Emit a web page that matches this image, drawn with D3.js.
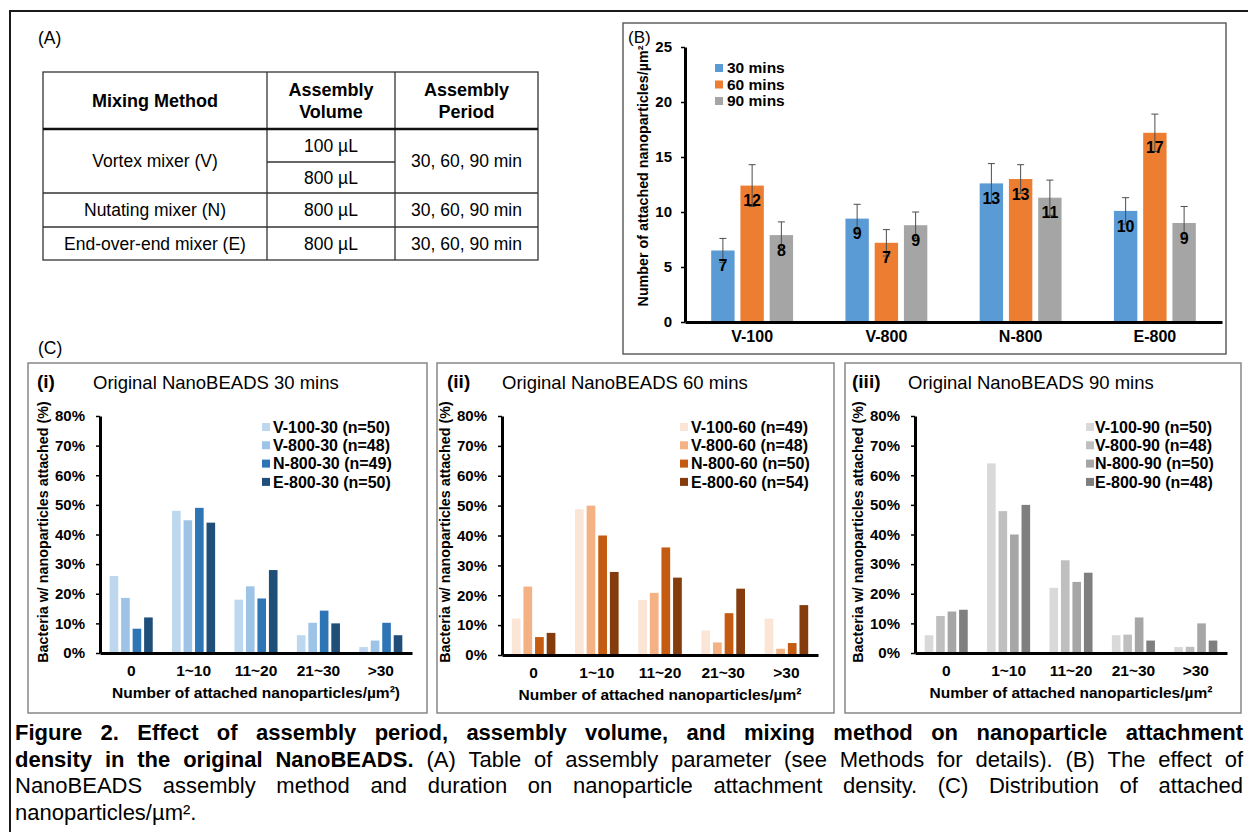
<!DOCTYPE html>
<html><head><meta charset="utf-8">
<script src="https://cdn.jsdelivr.net/npm/d3@7"></script>
<style>body{margin:0;background:#fff;} svg{display:block;} text{font-family:"Liberation Sans",Arial,Helvetica,sans-serif;fill:#000;}</style>
</head><body><svg id="fig" width="1248" height="832"></svg>
<script>
// ---------------- DATA ----------------
// Panel A table
const tableHeader = [["Mixing Method"], ["Assembly", "Volume"], ["Assembly", "Period"]];
const mixers = ["Vortex mixer (V)", "Nutating mixer (N)", "End-over-end mixer (E)"];
const volumes = ["100 µL", "800 µL", "800 µL", "800 µL"];
const periods = ["30, 60, 90 min", "30, 60, 90 min", "30, 60, 90 min"];

// Panel B
const bCategories = ["V-100", "V-800", "N-800", "E-800"];
const bSeries = ["30 mins", "60 mins", "90 mins"];
const b30 = [6.5, 9.4, 12.6, 10.1];
const b60 = [12.4, 7.2, 13.0, 17.2];
const b90 = [7.9, 8.8, 11.3, 9.0];
const b30err = [1.1, 1.3, 1.8, 1.2];
const b60err = [1.9, 1.2, 1.3, 1.7];
const b90err = [1.2, 1.2, 1.6, 1.5];
const b30lab = ["7", "9", "13", "10"];
const b60lab = ["12", "7", "13", "17"];
const b90lab = ["8", "9", "11", "9"];
const bTicks = [0, 5, 10, 15, 20, 25];
const bColors = ["#5B9BD5", "#ED7D31", "#A5A5A5"];

// Panel C
const cCategories = ["0", "1~10", "11~20", "21~30", ">30"];
const cTicks = [0, 10, 20, 30, 40, 50, 60, 70, 80];
const c30names = ["V-100-30 (n=50)", "V-800-30 (n=48)", "N-800-30 (n=49)", "E-800-30 (n=50)"];
const c30V100 = [26, 48, 18, 6, 2];
const c30V800 = [18.6, 44.8, 22.5, 10.2, 4.2];
const c30N800 = [8.2, 49, 18.4, 14.3, 10.2];
const c30E800 = [12, 44, 28, 10, 6];
const c60names = ["V-100-60 (n=49)", "V-800-60 (n=48)", "N-800-60 (n=50)", "E-800-60 (n=54)"];
const c60V100 = [12.2, 48.8, 18.4, 8.2, 12.2];
const c60V800 = [22.9, 50, 20.8, 4.2, 2.1];
const c60N800 = [6, 40, 36, 14, 4];
const c60E800 = [7.4, 27.8, 25.9, 22.2, 16.7];
const c90names = ["V-100-90 (n=50)", "V-800-90 (n=48)", "N-800-90 (n=50)", "E-800-90 (n=48)"];
const c90V100 = [6, 64, 22, 6, 2];
const c90V800 = [12.5, 47.9, 31.3, 6.2, 2.1];
const c90N800 = [14, 40, 24, 12, 10];
const c90E800 = [14.6, 50, 27.1, 4.2, 4.2];
const cBlues = ["#BDD7EE", "#9DC3E6", "#2E75B6", "#1F4E79"];
const cOranges = ["#FBE5D6", "#F4B183", "#C55A11", "#843C0C"];
const cGrays = ["#D9D9D9", "#BFBFBF", "#A6A6A6", "#7F7F7F"];

// Caption
const captionLines = [
  [{t: "Figure 2. Effect of assembly period, assembly volume, and mixing method on nanoparticle attachment", b: true}],
  [{t: "density in the original NanoBEADS.", b: true}, {t: "(A) Table of assembly parameter (see Methods for details). (B) The effect of", b: false}],
  [{t: "NanoBEADS assembly method and duration on nanoparticle attachment density. (C) Distribution of attached", b: false}],
  [{t: "nanoparticles/µm².", b: false}]
];

// ---------------- DRAW ----------------
const svg = d3.select("#fig");
svg.append("rect").attr("width", 1248).attr("height", 832).attr("fill", "#fff");

// outer frame (top + left)
svg.append("path").attr("d", "M10,832 V11 H1248").attr("fill", "none")
  .attr("stroke", "#1a1a1a").attr("stroke-width", 2);

function txt(g, x, y, s, size, weight, anchor) {
  return g.append("text").attr("x", x).attr("y", y).attr("dy", "0.35em")
    .style("font-size", size + "px").style("font-weight", weight || "normal")
    .attr("text-anchor", anchor || "start").text(s);
}

// ---------- Panel A ----------
const gA = svg.append("g");
txt(gA, 38, 38, "(A)", 17.5);
const tx = [43, 267, 395, 538];
const ty = [72, 129, 162, 193, 227, 260];
const lineC = "#333";
gA.append("rect").attr("x", tx[0]).attr("y", ty[0]).attr("width", tx[3] - tx[0]).attr("height", ty[5] - ty[0])
  .attr("fill", "none").attr("stroke", lineC).attr("stroke-width", 1.3);
[tx[1], tx[2]].forEach(x => gA.append("line").attr("x1", x).attr("x2", x).attr("y1", ty[0]).attr("y2", ty[5]).attr("stroke", lineC).attr("stroke-width", 1.3));
gA.append("line").attr("x1", tx[0]).attr("x2", tx[3]).attr("y1", ty[1]).attr("y2", ty[1]).attr("stroke", "#111").attr("stroke-width", 2.6);
gA.append("line").attr("x1", tx[1]).attr("x2", tx[2]).attr("y1", ty[2]).attr("y2", ty[2]).attr("stroke", lineC).attr("stroke-width", 1.3);
[ty[3], ty[4]].forEach(y => gA.append("line").attr("x1", tx[0]).attr("x2", tx[3]).attr("y1", y).attr("y2", y).attr("stroke", lineC).attr("stroke-width", 1.3));
const colC = [(tx[0] + tx[1]) / 2, (tx[1] + tx[2]) / 2, (tx[2] + tx[3]) / 2];
tableHeader.forEach((h, i) => {
  const cy = (ty[0] + ty[1]) / 2;
  h.forEach((s, j) => txt(gA, colC[i], cy + (j - (h.length - 1) / 2) * 22, s, 18, "bold", "middle"));
});
const rowMid = [(ty[1] + ty[3]) / 2, (ty[3] + ty[4]) / 2, (ty[4] + ty[5]) / 2];
mixers.forEach((m, i) => txt(gA, colC[0], rowMid[i], m, 17.5, "normal", "middle"));
periods.forEach((p, i) => txt(gA, colC[2], rowMid[i], p, 17.5, "normal", "middle"));
const volY = [(ty[1] + ty[2]) / 2, (ty[2] + ty[3]) / 2, rowMid[1], rowMid[2]];
volumes.forEach((v, i) => txt(gA, colC[1], volY[i], v, 17.5, "normal", "middle"));

// ---------- Panel B ----------
const gB = svg.append("g");
gB.append("rect").attr("x", 623).attr("y", 23).attr("width", 603).attr("height", 331)
  .attr("fill", "none").attr("stroke", "#555").attr("stroke-width", 1.4);
const yB = d3.scaleLinear().domain([0, 25]).range([322, 47]);
const xB = d3.scaleBand().domain(bCategories).range([685, 1222]).paddingInner(0.39).paddingOuter(0.195);
const xB1 = d3.scaleBand().domain(bSeries).range([0, xB.bandwidth()]).paddingInner(0.2);
const bVals = [b30, b60, b90], bErr = [b30err, b60err, b90err], bLab = [b30lab, b60lab, b90lab];
bSeries.forEach((s, si) => {
  const g = gB.append("g");
  g.selectAll("rect").data(bCategories).join("rect")
    .attr("x", c => xB(c) + xB1(s)).attr("width", xB1.bandwidth())
    .attr("y", (c, i) => yB(bVals[si][i])).attr("height", (c, i) => yB(0) - yB(bVals[si][i]))
    .attr("fill", bColors[si]);
  bCategories.forEach((c, i) => {
    const cx = xB(c) + xB1(s) + xB1.bandwidth() / 2;
    const v = bVals[si][i], e = bErr[si][i];
    g.append("line").attr("x1", cx).attr("x2", cx).attr("y1", yB(v - e)).attr("y2", yB(v + e)).attr("stroke", "#4d4d4d").attr("stroke-width", 1);
    [v - e, v + e].forEach(w => g.append("line").attr("x1", cx - 3.5).attr("x2", cx + 3.5).attr("y1", yB(w)).attr("y2", yB(w)).attr("stroke", "#4d4d4d").attr("stroke-width", 1));
    txt(g, cx, yB(v) + 15, bLab[si][i], 16, "bold", "middle");
  });
});
const gyB = gB.append("g").attr("transform", "translate(685,0)")
  .call(d3.axisLeft(yB).tickValues(bTicks).tickSize(4).tickSizeOuter(0).tickPadding(9));
gyB.select(".domain").attr("stroke", "#000").attr("stroke-width", 3);
gyB.selectAll(".tick line").attr("stroke", "#000").attr("stroke-width", 1.5);
gyB.selectAll(".tick text").style("font-size", "15px").style("font-weight", "bold").style("font-family", null).attr("fill", "#000");
const gxB = gB.append("g").attr("transform", "translate(0,322)")
  .call(d3.axisBottom(xB).tickSize(0).tickPadding(9));
gxB.select(".domain").attr("stroke", "#000").attr("stroke-width", 3);
gxB.selectAll(".tick text").style("font-size", "16px").style("font-weight", "bold").style("font-family", null).attr("fill", "#000");
bSeries.forEach((s, i) => {
  gB.append("rect").attr("x", 715).attr("y", 68 + i * 16.5 - 4).attr("width", 8).attr("height", 8).attr("fill", bColors[i]);
  txt(gB, 727, 68 + i * 16.5, s, 15.5, "bold");
});
gB.append("text").attr("transform", "translate(643,176) rotate(-90)").attr("dy", "0.35em")
  .attr("text-anchor", "middle").style("font-size", "14.3px").style("font-weight", "bold")
  .text("Number of attached nanoparticles/µm²");
txt(gB, 628, 37, "(B)", 17);

// ---------- Panel C ----------
txt(svg, 38, 348, "(C)", 17.5);
function drawPanel(p) {
  const g = svg.append("g");
  g.append("rect").attr("x", p.box[0]).attr("y", 363).attr("width", p.box[1] - p.box[0]).attr("height", 350)
    .attr("fill", "none").attr("stroke", "#7f7f7f").attr("stroke-width", 1.4);
  txt(g, p.labX, 381, p.label, 19, "bold");
  txt(g, p.titleX, 383, p.title, 18.5, "normal");
  const y = d3.scaleLinear().domain([0, 80]).range([p.yBot, 416]);
  const x0 = d3.scaleBand().domain(cCategories).range([p.ax, p.axEnd]).paddingInner(0.31).paddingOuter(0.155);
  const x1 = d3.scaleBand().domain(p.names).range([0, x0.bandwidth()]).paddingInner(0.25);
  p.names.forEach((n, si) => {
    g.append("g").selectAll("rect").data(cCategories).join("rect")
      .attr("x", c => x0(c) + x1(n)).attr("width", x1.bandwidth())
      .attr("y", (c, i) => y(p.vals[si][i])).attr("height", (c, i) => y(0) - y(p.vals[si][i]))
      .attr("fill", p.colors[si]);
  });
  const gy = g.append("g").attr("transform", `translate(${p.ax},0)`)
    .call(d3.axisLeft(y).tickValues(cTicks).tickSize(4).tickSizeOuter(0).tickPadding(11).tickFormat(d => d + "%"));
  gy.select(".domain").attr("stroke", "#000").attr("stroke-width", 3);
  gy.selectAll(".tick line").attr("stroke", "#000").attr("stroke-width", 1.5);
  gy.selectAll(".tick text").style("font-size", "15px").style("font-weight", "bold").style("font-family", null).attr("fill", "#000");
  const gx = g.append("g").attr("transform", `translate(0,${p.yBot})`)
    .call(d3.axisBottom(x0).tickSize(0).tickPadding(12));
  gx.select(".domain").attr("stroke", "#000").attr("stroke-width", 3);
  gx.selectAll(".tick text").style("font-size", "15.5px").style("font-weight", "bold").style("font-family", null).attr("fill", "#000");
  txt(g, (p.ax + p.axEnd) / 2, p.yBot + 40, p.xTitle, 15.5, "bold", "middle");
  g.append("text").attr("transform", `translate(${p.ax - 57},532) rotate(-90)`).attr("dy", "0.35em")
    .attr("text-anchor", "middle").style("font-size", "14.3px").style("font-weight", "bold")
    .text("Bacteria w/ nanoparticles attached (%)");
  p.names.forEach((n, i) => {
    const cy = 427 + i * 18.3;
    g.append("rect").attr("x", p.legX).attr("y", cy - 4).attr("width", 8).attr("height", 8).attr("fill", p.colors[i]);
    txt(g, p.legX + p.legGap, cy, n, 16, "bold");
  });
}
drawPanel({box: [28, 427], labX: 37, titleX: 93, label: "(i)", title: "Original NanoBEADS 30 mins",
  ax: 100, axEnd: 412, yBot: 653, names: c30names, vals: [c30V100, c30V800, c30N800, c30E800], colors: cBlues,
  legX: 262, legGap: 11, xTitle: "Number of attached nanoparticles/µm²)"});
drawPanel({box: [437, 834], labX: 447, titleX: 502, label: "(ii)", title: "Original NanoBEADS 60 mins",
  ax: 502, axEnd: 818, yBot: 655, names: c60names, vals: [c60V100, c60V800, c60N800, c60E800], colors: cOranges,
  legX: 680, legGap: 11, xTitle: "Number of attached nanoparticles/µm²"});
drawPanel({box: [845, 1241], labX: 852, titleX: 908, label: "(iii)", title: "Original NanoBEADS 90 mins",
  ax: 915, axEnd: 1227, yBot: 653, names: c90names, vals: [c90V100, c90V800, c90N800, c90E800], colors: cGrays,
  legX: 1086, legGap: 9, xTitle: "Number of attached nanoparticles/µm²"});

// ---------- Caption ----------
const gC = svg.append("g");
captionLines.forEach((segs, li) => {
  const yb = 740 + li * 26.7;
  const words = [];
  segs.forEach(s => s.t.split(" ").forEach(w => { if (w) words.push({w, b: s.b}); }));
  const nodes = words.map(d => gC.append("text").attr("y", yb).style("font-size", "22px")
    .style("font-weight", d.b ? "bold" : "normal").text(d.w));
  const widths = nodes.map(n => n.node().getComputedTextLength());
  const justify = li < captionLines.length - 1;
  const gap = justify ? (1243 - 15 - d3.sum(widths)) / (words.length - 1) : 6;
  let x = 15;
  nodes.forEach((n, i) => { n.attr("x", x); x += widths[i] + gap; });
});
</script></body></html>
